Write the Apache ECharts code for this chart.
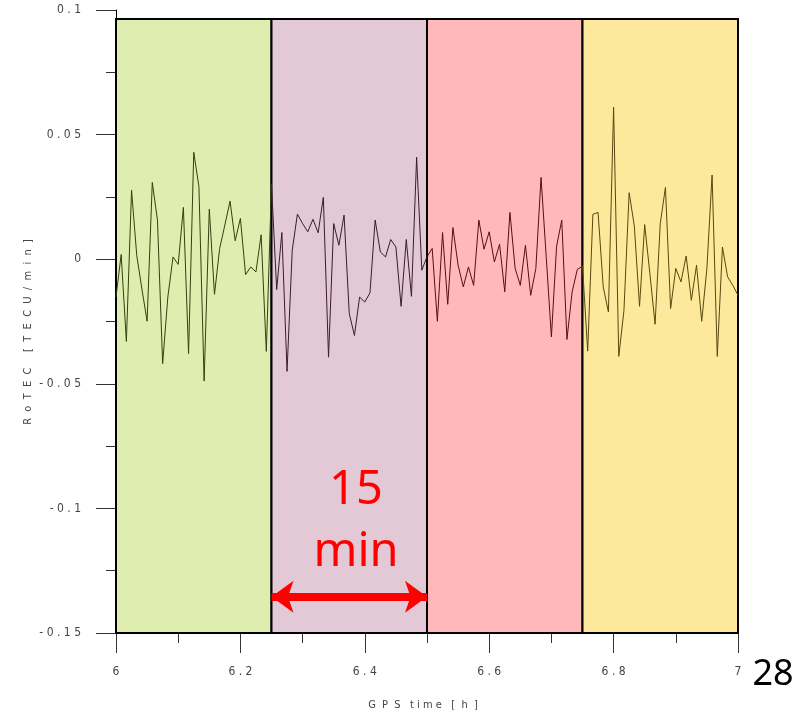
<!DOCTYPE html>
<html><head><meta charset="utf-8">
<script src="https://cdn.jsdelivr.net/npm/echarts@6/dist/echarts.min.js"></script>
<style>html,body{margin:0;padding:0;background:#fff}#c{width:808px;height:713px}</style>
</head><body><div id="c"></div>
<script>
// GPS time sampling (hours): 30-second samples from 6.0 h
const startHour = 6;
const stepHour = 1 / 120;
// RoTEC values [TECU/min]
const rotec = [
 -0.0152, 0.0019, -0.033, 0.0277, 0.0016, -0.012, -0.0249, 0.0308, 0.0157, -0.0419, -0.0152, 0.0009, -0.0021, 0.0208, -0.0379, 0.0429, 0.0291, -0.0489, 0.0201, -0.0141, 0.0043, 0.0137, 0.0233, 0.0074, 0.0164, -0.0062, -0.0031, -0.0051, 0.0098, -0.037, 0.030,
 -0.0122, 0.0107, -0.045, 0.0036, 0.0181, 0.0143, 0.011, 0.016, 0.0106, 0.0248, -0.0393, 0.0143, 0.0056, 0.0177, -0.0218, -0.0306, -0.0152, -0.0172, -0.0135, 0.0157, 0.0029, 0.0009, 0.0079, 0.0049, -0.0189, 0.0079, -0.0149, 0.0409, -0.0044, 0.001,
 0.0043, -0.0249, 0.0107, -0.0181, 0.0127, -0.0024, -0.0111, -0.0031, -0.0105, 0.0157, 0.004, 0.011, -0.0011, 0.006, -0.0131, 0.0188, -0.0037, -0.0105, 0.0056, -0.0145, -0.0037, 0.0328, 0.001, -0.0312, 0.0052, 0.0157, -0.0322, -0.0131, -0.0041, -0.0028,
 -0.0369, 0.018, 0.0188, -0.0111, -0.0212, 0.061, -0.039, -0.0205, 0.0267, 0.0133, -0.0189, 0.0139, -0.0058, -0.0261, 0.0143, 0.0288, -0.0198, -0.0037, -0.0091, 0.0013, -0.0165, -0.0024, -0.0249, -0.0037, 0.0338, -0.039, 0.0049, -0.0071, -0.0105, -0.0145
];
// 15-minute windows
const windowStarts = [6, 6.25, 6.5, 6.75];
const windowEnds = [6.25, 6.5, 6.75, 7];
const windowFill = ['#E0EDB0', '#E3C8D5', '#FFB9BA', '#FDE89B'];
const windowLine = ['#34400F', '#3A1E30', '#561014', '#584810'];
const windowTop = 0.0964;
const arrowY = -0.1355;

const spaced = (s, sep) => String(s).split('').join(sep || ' ');
const pts = rotec.map((v, i) => [startHour + i * stepHour, v]);
const tickFont = '"Liberation Sans Narrow","DejaVu Sans Condensed",sans-serif';

const series = [{
  type: 'line', data: [], silent: true,
  markArea: {
    silent: true,
    data: windowStarts.map((s, k) => [
      {xAxis: s, yAxis: windowTop, itemStyle: {color: windowFill[k], borderColor: '#000', borderWidth: 2}},
      {xAxis: windowEnds[k], yAxis: -0.15}
    ])
  },
  markLine: {
    silent: true, symbol: ['arrow', 'arrow'], symbolSize: [24, 22],
    label: {show: false},
    lineStyle: {color: '#FF0000', width: 8, type: 'solid', opacity: 1},
    data: [[{coord: [windowStarts[1], arrowY]}, {coord: [windowEnds[1], arrowY]}]]
  }
}];
windowStarts.forEach((s, k) => {
  series.push({
    type: 'line', z: 5, symbol: 'none', silent: true,
    lineStyle: {color: windowLine[k], width: 1},
    data: pts.filter(p => p[0] >= s - 1e-9 && p[0] <= windowEnds[k] + 1e-9)
  });
});

const chart = echarts.init(document.getElementById('c'), null, {renderer: 'canvas'});
chart.setOption({
  animation: false,
  backgroundColor: '#fff',
  grid: {left: 116, right: 70, top: 10, bottom: 80, containLabel: false, outerBoundsMode: 'none'},
  xAxis: {
    type: 'value', min: 6, max: 7, interval: 0.2,
    axisLine: {show: true, onZero: false, lineStyle: {color: '#000', width: 1}},
    axisTick: {show: true, inside: false, length: 20, lineStyle: {color: '#333'}},
    minorTick: {show: true, splitNumber: 2, length: 10, lineStyle: {color: '#333'}},
    splitLine: {show: false},
    axisLabel: {margin: 33, fontFamily: tickFont, fontSize: 12, color: '#444',
      formatter: v => spaced(+v.toFixed(2))}
  },
  yAxis: {
    type: 'value', min: -0.15, max: 0.1, interval: 0.05,
    axisLine: {show: true, onZero: false, lineStyle: {color: '#000', width: 1}},
    axisTick: {show: true, inside: false, length: 20, lineStyle: {color: '#333'}},
    minorTick: {show: true, splitNumber: 2, length: 10, lineStyle: {color: '#333'}},
    splitLine: {show: false},
    axisLabel: {margin: 35, fontFamily: tickFont, fontSize: 12, color: '#444',
      formatter: v => spaced(+v.toFixed(2))}
  },
  series: series,
  graphic: [
    {type: 'text', x: 28, y: 332, rotation: Math.PI / 2, z: 20,
      style: {text: spaced('RoTEC [TECU/min]', '  '), align: 'center', verticalAlign: 'middle', fill: '#444', font: '11px ' + tickFont}},
    {type: 'text', x: 423, y: 705, z: 20,
      style: {text: 'G  P  S   t i m e   [  h  ]', align: 'center', verticalAlign: 'middle', fill: '#444', font: '11px ' + tickFont}},
    {type: 'text', x: 356, y: 491, z: 20, style: {text: '15', align: 'center', verticalAlign: 'middle', fill: '#FF0000', font: '47px "Noto Sans", sans-serif'}},
    {type: 'text', x: 356, y: 553, z: 20, style: {text: 'min', align: 'center', verticalAlign: 'middle', fill: '#FF0000', font: '47px "Noto Sans", sans-serif'}},
    {type: 'text', x: 773, y: 675, z: 20, style: {text: '28', align: 'center', verticalAlign: 'middle', fill: '#000', font: '36px "Noto Sans", sans-serif'}}
  ]
});
</script></body></html>
